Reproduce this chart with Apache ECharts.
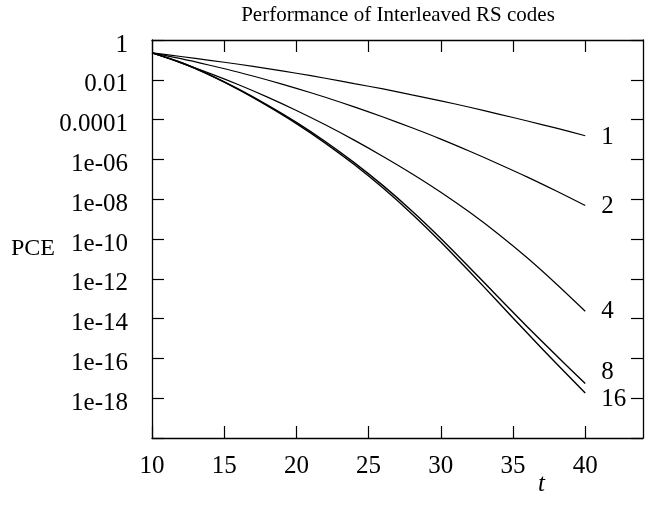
<!DOCTYPE html>
<html>
<head>
<meta charset="utf-8">
<script src="https://cdn.jsdelivr.net/npm/echarts@6/dist/echarts.min.js"></script>
<style>html,body{margin:0;padding:0;background:#fff}#chart{width:656px;height:505px}</style>
</head>
<body>
<div id="chart"></div>
<script>
var tValues = [10, 12, 14, 16, 18, 20, 22, 24, 26, 28, 30, 32, 34, 36, 38, 40];
var pce1 = [0.224, 0.148, 0.0955, 0.0603, 0.0363, 0.0214, 0.0120, 0.00646, 0.00347, 0.00174, 8.7e-4, 4.17e-4, 1.9e-4, 8.5e-5, 3.7e-5, 1.55e-5];
var pce2 = [0.224, 0.115, 0.0537, 0.024, 0.00977, 0.00372, 0.00132, 4.37e-4, 1.35e-4, 3.89e-5, 1.05e-5, 2.57e-6, 5.89e-7, 1.29e-7, 2.57e-8, 4.79e-9];
var pce4 = [0.224, 0.0708, 0.0209, 0.00562, 0.00135, 2.88e-4, 5.5e-5, 9.33e-6, 1.41e-6, 1.91e-7, 2.24e-8, 2.19e-9, 1.74e-10, 1.1e-11, 5.5e-13, 2.34e-14];
var pce8 = [0.224, 0.0741, 0.0178, 0.00339, 5.37e-4, 7.24e-5, 7.94e-6, 6.92e-7, 4.79e-8, 2.57e-9, 1.07e-10, 3.63e-12, 1.15e-13, 3.8e-15, 1.38e-16, 5.5e-18];
var pce16 = [0.224, 0.0741, 0.0174, 0.00324, 4.9e-4, 6.31e-5, 6.61e-6, 5.5e-7, 3.63e-8, 1.82e-9, 7.08e-11, 2.24e-12, 6.46e-14, 1.82e-15, 5.5e-17, 1.82e-18];
var seriesNames = ['1', '2', '4', '8', '16'];
var xTickValues = [10, 15, 20, 25, 30, 35, 40];
var yTickLabels = ['1', '0.01', '0.0001', '1e-06', '1e-08', '1e-10', '1e-12', '1e-14', '1e-16', '1e-18', ''];

var FONT = 'Liberation Serif';
var chart = echarts.init(document.getElementById('chart'), null, {renderer: 'canvas'});

function pairs(arr) { return tValues.map(function (t, i) { return [t, arr[i]]; }); }
var allData = [pce1, pce2, pce4, pce8, pce16];
var labelOffsets = [[8, 2], [8, 1], [8, 0], [8, -11], [8, 6]];

var series = allData.map(function (d, i) {
  return {
    name: seriesNames[i],
    type: 'line',
    data: pairs(d),
    showSymbol: false,
    smooth: 0.3,
    lineStyle: {color: '#000', width: i >= 3 ? 1.4 : 1.2},
    endLabel: {
      show: true,
      formatter: seriesNames[i],
      offset: labelOffsets[i],
      color: '#000',
      fontFamily: FONT,
      fontSize: 25
    },
    animation: false
  };
});

var tickStyle = {inside: true, length: 12, lineStyle: {color: '#000', width: 1.2}};
var lineStyle = {show: true, lineStyle: {color: '#000', width: 1.3}};

chart.setOption({
  backgroundColor: '#fff',
  animation: false,
  title: [
    {text: 'Performance of Interleaved RS codes', left: 393, top: 0, textAlign: 'center',
      textStyle: {fontFamily: FONT, fontSize: 21, fontWeight: 'normal', color: '#000'}},
    {text: 'PCE', left: 6, top: 232,
      textStyle: {fontFamily: FONT, fontSize: 24, fontWeight: 'normal', color: '#000'}},
    {text: 't', left: 533, top: 467,
      textStyle: {fontFamily: FONT, fontSize: 25, fontStyle: 'italic', fontWeight: 'normal', color: '#000'}}
  ],
  grid: {left: 152, right: 13, top: 40, bottom: 67, containLabel: false},
  xAxis: [
    {type: 'value', min: 10, max: 44, interval: 5, position: 'bottom',
      axisLine: lineStyle, splitLine: {show: false},
      axisTick: Object.assign({customValues: xTickValues}, tickStyle),
      axisLabel: {customValues: xTickValues, margin: 16, color: '#000', fontFamily: FONT, fontSize: 25}},
    {type: 'value', min: 10, max: 44, interval: 5, position: 'top',
      axisLine: lineStyle, splitLine: {show: false},
      axisTick: Object.assign({customValues: xTickValues}, tickStyle),
      axisLabel: {show: false}}
  ],
  yAxis: [
    {type: 'log', logBase: 10, min: 1e-20, max: 1, interval: 2, position: 'left',
      axisLine: lineStyle, splitLine: {show: false}, axisTick: tickStyle,
      axisLabel: {margin: 24, color: '#000', fontFamily: FONT, fontSize: 25,
        verticalAlign: 'top', lineHeight: 10,
        formatter: function (v) {
          var e = Math.round(-Math.log10(v));
          var idx = e / 2;
          return yTickLabels[idx] !== undefined ? yTickLabels[idx] : '';
        }}},
    {type: 'log', logBase: 10, min: 1e-20, max: 1, interval: 2, position: 'right',
      axisLine: lineStyle, splitLine: {show: false}, axisTick: tickStyle,
      axisLabel: {show: false}}
  ],
  series: series
});
</script>
</body>
</html>
